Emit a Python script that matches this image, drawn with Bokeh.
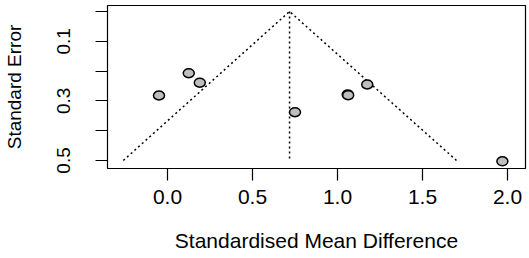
from bokeh.plotting import figure
from bokeh.models import Range1d, FixedTicker, NumeralTickFormatter
from bokeh.embed import file_html
from bokeh.resources import INLINE

# Data
smd = [-0.05, 0.125, 0.19, 0.75, 1.06, 1.063, 1.175, 1.97]
se = [0.282, 0.207, 0.239, 0.338, 0.279, 0.281, 0.245, 0.503]

pooled = [0.718, 0.718]
pooled_se = [0.0, 0.5]
funnel_x = [-0.26, 0.718, 1.70]
funnel_se = [0.5, 0.0, 0.5]

x_ticks = [0.0, 0.5, 1.0, 1.5, 2.0]
y_major = [0.1, 0.3, 0.5]
y_minor = [0.0, 0.2, 0.4]

FONT = "Liberation Sans"

p = figure(width=529, height=258, output_backend="svg", toolbar_location=None,
           x_range=Range1d(-0.353, 2.106), y_range=Range1d(0.527, -0.02),
           min_border_left=107, min_border_right=4, min_border_top=5, min_border_bottom=90)
p.background_fill_color = "white"
p.border_fill_color = "white"
p.outline_line_color = "black"
p.outline_line_width = 1.2
p.xgrid.visible = False
p.ygrid.visible = False

# funnel
p.line(funnel_x, funnel_se, line_color="black", line_dash="2 3", line_width=1.5)
p.line(pooled, pooled_se, line_color="black", line_dash="2 3", line_width=1.5)

# studies
p.ellipse(smd, se, width=11, height=9, width_units="screen", height_units="screen",
          fill_color="#BEBEBE", line_color="black", line_width=1.5)

xa = p.xaxis[0]
xa.ticker = FixedTicker(ticks=x_ticks)
xa.formatter = NumeralTickFormatter(format="0.0")
xa.axis_label = "Standardised Mean Difference"
xa.axis_line_color = None
xa.major_tick_out = 12
xa.major_tick_in = 0
xa.major_tick_line_color = "black"
xa.major_tick_line_width = 1.2
xa.minor_tick_line_color = None
xa.major_label_text_font = FONT
xa.major_label_text_font_size = "21px"
xa.major_label_text_color = "black"
xa.major_label_standoff = 9
xa.axis_label_text_font = FONT
xa.axis_label_text_font_size = "21px"
xa.axis_label_text_font_style = "normal"
xa.axis_label_text_color = "black"
xa.axis_label_standoff = 22

ya = p.yaxis[0]
ya.ticker = FixedTicker(ticks=y_major, minor_ticks=y_minor)
ya.axis_label = "Standard Error"
ya.axis_line_color = None
ya.major_tick_out = 12
ya.major_tick_in = 0
ya.minor_tick_out = 12
ya.minor_tick_in = 0
ya.major_tick_line_color = "black"
ya.minor_tick_line_color = "black"
ya.major_tick_line_width = 1.2
ya.minor_tick_line_width = 1.2
ya.major_label_orientation = "vertical"
ya.major_label_text_font = FONT
ya.major_label_text_font_size = "19px"
ya.major_label_text_color = "black"
ya.major_label_standoff = 25
ya.axis_label_text_font = FONT
ya.axis_label_text_font_size = "19px"
ya.axis_label_text_font_style = "normal"
ya.axis_label_text_color = "black"
ya.axis_label_standoff = 30

open("out.html", "w").write(file_html(p, INLINE))
